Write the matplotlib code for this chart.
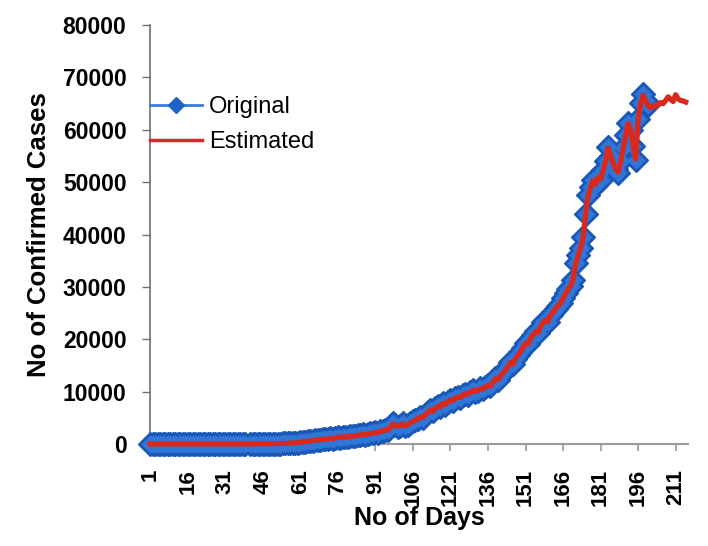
import numpy as np
import matplotlib
matplotlib.use("Agg")
import matplotlib.pyplot as plt

plt.rcParams['font.family'] = ['Liberation Sans', 'DejaVu Sans']

nan = np.nan

# Original confirmed cases (days 1-200), day 40 missing
original = [
    0, 0, 0, 0, 0, 0, 0, 0, 0, 0,
    0, 0, 0, 0, 0, 0, 0, 0, 1, 1,
    1, 1, 1, 2, 2, 2, 2, 3, 3, 3,
    3, 4, 4, 4, 5, 5, 6, 6, 7, nan,
    8, 10, 12, 15, 18, 22, 26, 30, 36, 42,
    50, 60, 72, 86, 100, 120, 140, 170, 210, 260,
    330, 400, 450, 520, 580, 620, 700, 750, 800, 850,
    900, 980, 1050, 1000, 1150, 1250, 1200, 1350, 1400, 1300,
    1500, 1550, 1450, 1650, 1700, 1800, 1750, 1900, 2000, 2050,
    2200, 2100, 2400, 2500, 2700, 2600, 3200, 3900, 3600, 3300,
    3500, 3900, 3400, 3700, 4000, 4300, 4500, 4800, 5200, 5000,
    5600, 6000, 6500, 6200, 6900, 7200, 7000, 7800, 7500, 8000,
    8400, 8200, 8700, 9000, 8800, 9300, 9600, 9400, 9900, 10300,
    10000, 10200, 10600, 10400, 10900, 11200, 11000, 11800, 12500, 12200,
    13000, 13600, 14100, 14800, 15600, 15200, 16300, 17000, 17600, 18400,
    19300, 19000, 20200, 20800, 21500, 21200, 22400, 23200, 23700, 23300,
    24600, 25200, 25800, 26400, 26900, 27800, 28800, 29500, 30200, 31300,
    34500, 36000, 37500, 39500, 44000, 47500, 49000, 50400, 49500, 51000,
    50500, 52300, 54000, 56700, 55000, 53500, 52500, 51800, 54000, 56500,
    59000, 61300, 60000, 57000, 54200, 62000, 65100, 66800, 65500, 64800,
]

# Estimated cases (days 1-215)
estimated = [
    0, 0, 0, 0, 0, 0, 0, 0, 0, 0,
    0, 0, 0, 0, 0, 0, 0, 0, 1, 1,
    1, 1, 1, 2, 2, 2, 2, 3, 3, 3,
    3, 4, 4, 4, 5, 5, 6, 6, 7, nan,
    8, 10, 12, 15, 18, 22, 26, 30, 36, 42,
    50, 60, 72, 86, 100, 120, 140, 170, 210, 260,
    320, 390, 460, 510, 590, 640, 690, 760, 810, 860,
    920, 970, 1030, 1020, 1140, 1230, 1220, 1330, 1390, 1330,
    1480, 1540, 1480, 1630, 1710, 1780, 1770, 1890, 1990, 2070,
    2180, 2150, 2380, 2490, 2680, 2650, 3150, 3800, 3620, 3350,
    3480, 3850, 3450, 3700, 3980, 4280, 4520, 4800, 5150, 5050,
    5550, 6000, 6450, 6250, 6850, 7200, 7050, 7750, 7550, 8000,
    8380, 8250, 8680, 8980, 8850, 9280, 9580, 9450, 9880, 10250,
    10050, 10220, 10580, 10450, 10880, 11180, 11050, 11750, 12450, 12250,
    12950, 13580, 14080, 14750, 15550, 15250, 16250, 16980, 17580, 18350,
    19250, 19050, 20150, 20780, 21450, 21250, 22350, 23150, 23680, 23380,
    24550, 25180, 25780, 26380, 26900, 27750, 28750, 29480, 30200, 31300,
    34300, 35900, 37400, 39300, 43800, 47300, 48900, 50300, 49600, 50900,
    50600, 52200, 53900, 56500, 55100, 53600, 52600, 51900, 53900, 56400,
    58900, 61200, 60100, 57100, 54400, 61800, 65000, 66600, 65500, 64700,
    64200, 64600, 64400, 64900, 65200, 65000, 65600, 66300, 65800, 65400,
    66700, 65900, 65600, 65500, 65300,
]

days_orig = np.arange(1, len(original) + 1)
days_est = np.arange(1, len(estimated) + 1)
tick_days = [1, 16, 31, 46, 61, 76, 91, 106, 121, 136, 151, 166, 181, 196, 211]

fig = plt.figure(figsize=(7.08, 5.46), dpi=100)
ax = fig.add_axes([0.212, 0.187, 0.760, 0.767])

# blue band: dark outline pass, then lighter fill pass on top
ax.plot(days_orig, original, color='#1a58b8', lw=2.5, marker='D', ms=12,
        mfc='#1a58b8', mec='#1a58b8', mew=1.0, zorder=3, clip_on=False)
ax.plot(days_orig, original, color='#2f76d6', lw=2.5, marker='D', ms=9.5,
        mfc='#2f76d6', mec='none', zorder=3.1, clip_on=False)
ax.plot(days_est, estimated, color='#d9291d', lw=3.8, zorder=4, clip_on=False)

# legend handles
ax.plot([], [], color='#3a7cd4', lw=2, marker='D', ms=8, mfc='#1f63c6',
        mec='#1f63c6', label='Original')
ax.plot([], [], color='#d9292d', lw=2.5, label='Estimated')

ax.set_xlim(1, 216)
ax.set_ylim(0, 80000)
ax.set_yticks(range(0, 80001, 10000))
ax.set_xticks(tick_days)
ax.set_xticklabels([str(d) for d in tick_days], rotation=90)

for s in ['top', 'right']:
    ax.spines[s].set_visible(False)
ax.spines['left'].set_color('#707070')
ax.spines['bottom'].set_color('#9a9a9a')
ax.spines['left'].set_linewidth(1.2)
ax.spines['bottom'].set_linewidth(1.5)

ax.tick_params(axis='y', length=6, width=1, color='#707070', pad=11,
               labelsize=16.5)
ax.tick_params(axis='x', length=5, width=1.2, color='#9a9a9a', pad=13,
               labelsize=16)
for lab in ax.get_xticklabels() + ax.get_yticklabels():
    lab.set_fontweight('bold')

ax.set_xlabel('No of Days', fontsize=18, fontweight='bold', labelpad=0)
ax.set_ylabel('No of Confirmed Cases', fontsize=18.5, fontweight='bold',
              labelpad=8)

ax.legend(loc='upper left', bbox_to_anchor=(0.0, 0.83), frameon=False,
          fontsize=17, borderpad=0, borderaxespad=0, handlelength=2.2,
          handletextpad=0.3, labelspacing=0.55)

fig.savefig('out.png', dpi=100)
